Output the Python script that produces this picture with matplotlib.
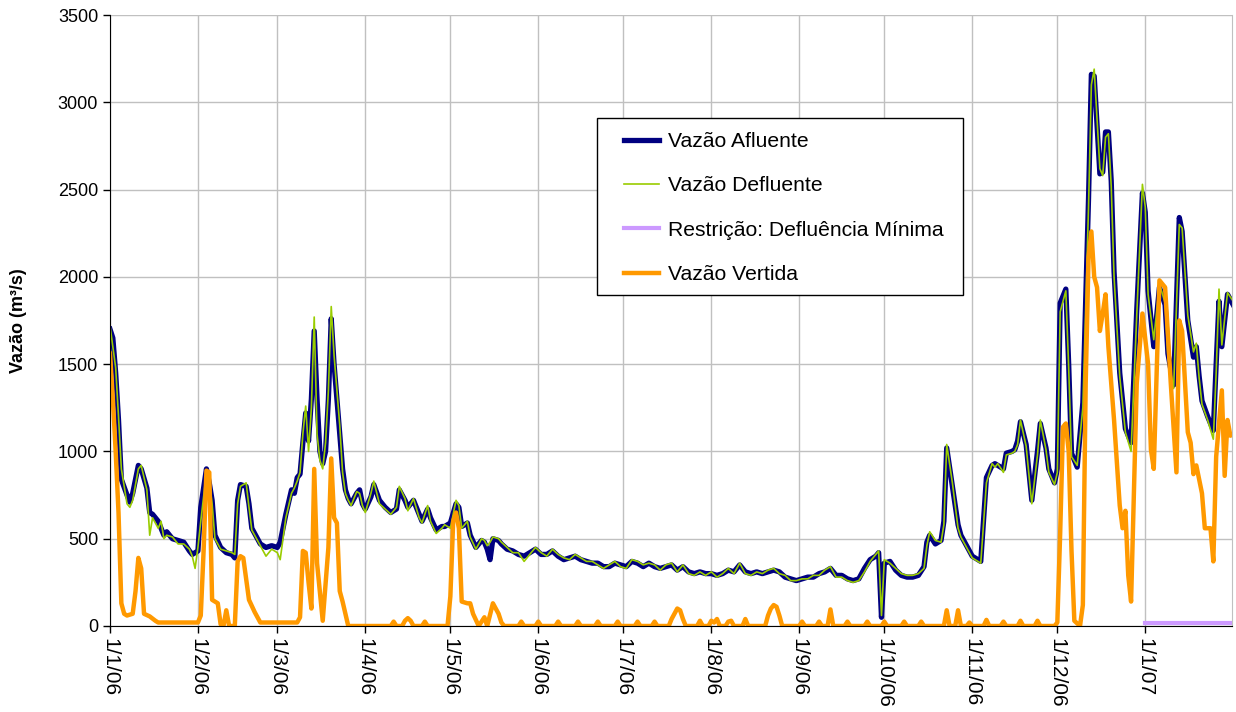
import numpy as np
import matplotlib
matplotlib.use("Agg")
import matplotlib.pyplot as plt
import matplotlib.dates as mdates
from matplotlib.patches import Rectangle
from matplotlib.ticker import FuncFormatter

plt.rcParams['font.family'] = ['Liberation Sans', 'DejaVu Sans']

start = np.datetime64('2006-01-01')

# dias desde 1/1/06
afl_days = [0, 1, 2, 3, 4, 6, 7, 8, 10, 11,
            13, 14, 15, 17, 18, 19, 20, 22, 24, 26,
            28, 29, 30, 31, 32, 34, 35, 36, 37, 39,
            41, 43, 44, 45, 46, 48, 49, 50, 52, 53,
            55, 57, 59, 60, 62, 64, 65, 66, 67, 68,
            69, 70, 71, 72, 73, 74, 75, 76, 77, 78,
            79, 81, 82, 83, 84, 85, 87, 88, 89, 90,
            92, 93, 95, 97, 99, 101, 102, 104, 105, 107,
            109, 110, 112, 113, 115, 117, 118, 120, 122, 123,
            124, 126, 127, 129, 131, 132, 133, 134, 135, 137,
            138, 140, 142, 144, 146, 148, 150, 152, 154, 156,
            158, 160, 162, 164, 166, 168, 170, 172, 174, 176,
            178, 180, 182, 184, 186, 188, 190, 192, 194, 196,
            198, 200, 202, 204, 206, 208, 210, 212, 214, 216,
            218, 220, 222, 224, 226, 228, 230, 232, 234, 236,
            238, 240, 242, 244, 246, 248, 250, 252, 254, 256,
            258, 260, 262, 264, 266, 268, 270, 271, 272, 273,
            275, 277, 279, 281, 283, 285, 287, 288, 289, 291,
            293, 294, 295, 297, 299, 300, 302, 304, 306, 307,
            309, 311, 312, 313, 315, 316, 318, 319, 320, 321,
            323, 325, 327, 328, 330, 331, 333, 334, 335, 337,
            338, 339, 341, 343, 345, 346, 347, 349, 350, 351,
            352, 353, 354, 356, 358, 360, 362, 364, 365, 366,
            368, 370, 372, 373, 375, 377, 378, 380, 382, 383,
            384, 385, 387, 389, 390, 391, 392, 394, 396]

afluente = [1700, 1650, 1450, 1180, 840, 750, 710, 760, 920, 900,
            790, 650, 640, 600, 560, 520, 540, 500, 490, 480,
            430, 410, 420, 430, 680, 900, 820, 720, 520, 450,
            420, 410, 390, 720, 810, 800, 700, 560, 500, 470,
            450, 460, 450, 480, 640, 780, 760, 850, 870, 1050,
            1220, 1060, 1300, 1690, 1300, 1000, 930, 1000, 1300, 1760,
            1500, 1100, 900, 780, 730, 700, 760, 780, 700, 670,
            740, 810, 720, 680, 650, 670, 780, 720, 680, 720,
            640, 600, 670, 620, 550, 570, 570, 590, 700, 680,
            570, 590, 520, 450, 490, 480, 440, 380, 500, 490,
            470, 440, 430, 410, 400, 420, 440, 410, 410, 430,
            400, 380, 390, 400, 380, 370, 360, 360, 340, 340,
            360, 350, 340, 370, 360, 340, 360, 340, 330, 340,
            350, 320, 340, 310, 300, 310, 300, 300, 290, 300,
            320, 310, 350, 310, 300, 310, 300, 310, 320, 310,
            280, 270, 260, 270, 280, 280, 300, 310, 330, 290,
            290, 270, 260, 270, 330, 380, 400, 420, 50, 360,
            370, 320, 290, 280, 280, 290, 340, 480, 520, 470,
            490, 600, 1020, 800, 580, 520, 460, 400, 380, 370,
            850, 920, 930, 920, 900, 990, 1000, 1010, 1060, 1170,
            1040, 720, 1000, 1160, 1020, 900, 820, 900, 1850, 1930,
            1500, 990, 910, 1280, 2450, 3160, 3150, 2590, 2600, 2830,
            2830, 2550, 2030, 1450, 1130, 1050, 1810, 2480, 2370, 1920,
            1600, 1940, 1840, 1560, 1380, 2340, 2260, 1750, 1540, 1600,
            1430, 1290, 1200, 1120, 1500, 1860, 1600, 1900, 1840]

defluente = [1720, 1600, 1480, 1200, 900, 700, 680, 720, 900, 920,
             780, 520, 620, 560, 600, 500, 520, 510, 470, 470,
             440, 400, 330, 450, 600, 880, 840, 700, 500, 440,
             430, 420, 410, 700, 800, 820, 680, 550, 490, 460,
             400, 440, 420, 380, 620, 760, 790, 830, 880, 1100,
             1260, 1000, 1250, 1770, 1100, 950, 900, 1050, 1350, 1830,
             1550, 1150, 880, 760, 720, 690, 770, 760, 690, 650,
             760, 830, 700, 670, 640, 680, 800, 730, 660, 730,
             620, 590, 690, 600, 530, 560, 580, 560, 720, 690,
             560, 600, 510, 440, 500, 490, 460, 480, 510, 500,
             480, 450, 420, 420, 370, 410, 450, 420, 400, 440,
             410, 390, 380, 410, 390, 370, 370, 350, 330, 350,
             370, 340, 330, 380, 370, 350, 360, 350, 320, 350,
             360, 310, 350, 300, 290, 310, 290, 310, 280, 300,
             330, 300, 360, 300, 290, 310, 300, 320, 330, 300,
             290, 260, 260, 270, 270, 290, 290, 320, 340, 280,
             280, 260, 250, 260, 310, 370, 410, 430, 60, 380,
             360, 330, 300, 290, 290, 300, 330, 460, 540, 490,
             480, 580, 1040, 820, 560, 510, 450, 390, 370, 360,
             820, 930, 910, 930, 880, 980, 990, 1000, 1040, 1180,
             1030, 700, 980, 1180, 1010, 880, 810, 880, 1800, 1920,
             1480, 970, 920, 1250, 2400, 3100, 3190, 2620, 2580, 2800,
             2820, 2520, 2000, 1430, 1110, 1000, 1780, 2530, 2400, 1900,
             1640, 1960, 1850, 1540, 1360, 2300, 2280, 1780, 1570, 1620,
             1420, 1270, 1180, 1070, 1450, 1930, 1610, 1910, 1860]

vert_days = [0, 1, 2, 3, 4, 5, 6, 8, 9, 10, 11, 12, 14, 16, 17, 31,
             32, 33, 34, 35, 36, 38, 39, 40, 41, 42, 44, 45, 46, 47, 49, 51, 53,
             66, 67, 68, 69, 70, 71, 72, 73, 75, 77, 78, 79, 80, 81, 82, 84,
             99, 100, 101, 103, 104, 105, 106, 107, 110, 111, 112,
             119, 120, 121, 122, 123, 124, 126, 127, 128, 130, 132, 133, 135, 137, 138, 139,
             144, 145, 146, 150, 151, 152, 157, 158, 159, 164, 165, 166,
             171, 172, 173, 178, 179, 180, 185, 186, 187, 191, 192, 193,
             197, 198, 199, 200, 201, 202, 203,
             207, 208, 209, 211, 212, 213, 214, 215, 217, 218, 219, 220, 223, 224, 225,
             231, 232, 233, 234, 235, 236, 237,
             243, 244, 245, 249, 250, 251, 253, 254, 255, 259, 260, 261,
             266, 267, 268, 272, 273, 274, 279, 280, 281, 285, 286, 287,
             294, 295, 296, 298, 299, 300, 302, 303, 304, 308, 309, 310,
             314, 315, 316, 320, 321, 322, 326, 327, 328, 333, 334,
             335, 336, 337, 338, 339, 340, 342, 343, 344, 345, 346, 347, 348,
             349, 350, 351, 352, 354, 356, 357, 358, 359, 360, 361, 362, 364,
             366, 367, 368, 370, 372, 374, 376, 377, 378, 380, 381, 382, 383,
             385, 386, 388, 389, 390, 392, 393, 394, 395, 396]

vertida = [1560, 1300, 1000, 650, 130, 70, 60, 70, 200, 390, 330, 70, 55, 30, 20, 20,
           60, 430, 890, 880, 150, 130, 10, 0, 90, 0, 0, 370, 400, 390, 150, 80, 20,
           20, 50, 430, 420, 250, 100, 900, 360, 30, 450, 960, 620, 590, 200, 140, 0,
           0, 25, 0, 0, 30, 45, 30, 0, 0, 25, 0,
           0, 170, 600, 650, 560, 140, 130, 130, 70, 0, 50, 0, 130, 70, 20, 0,
           0, 25, 0, 0, 25, 0, 0, 25, 0, 0, 25, 0,
           0, 25, 0, 0, 25, 0, 0, 25, 0, 0, 25, 0,
           0, 40, 70, 100, 90, 40, 0,
           0, 30, 0, 0, 30, 20, 40, 0, 0, 25, 30, 0, 0, 40, 0,
           0, 60, 100, 120, 110, 60, 0,
           0, 25, 0, 0, 25, 0, 0, 95, 0, 0, 25, 0,
           0, 25, 0, 0, 25, 0, 0, 25, 0, 0, 25, 0,
           0, 90, 0, 0, 90, 0, 0, 20, 0, 0, 35, 0,
           0, 25, 0, 0, 30, 0, 0, 30, 0, 0, 20,
           530, 1140, 1160, 1000, 430, 30, 0, 120, 1390, 2110, 2260, 2000, 1940,
           1690, 1790, 1900, 1600, 1180, 690, 560, 660, 290, 140, 760, 1390, 1790,
           1500, 1010, 900, 1980, 1940, 1390, 880, 1750, 1690, 1110, 1050, 870, 920,
           760, 560, 560, 370, 970, 1350, 860, 1180, 1090, 1100]

restr_days = [365, 396]
restricao = [15, 15]


def to_dates(days):
    return start + np.array(days).astype('timedelta64[D]')


W, H = 1236, 712
fig = plt.figure(figsize=(W / 100, H / 100), dpi=100)
ax = fig.add_axes([110 / W, 86 / H, 1122 / W, 611 / H])

ax.plot(to_dates(afl_days), afluente, color='#000080', lw=3.8, label='Vazão Afluente')
ax.plot(to_dates(afl_days), defluente, color='#99cc00', lw=1.2, label='Vazão Defluente')
ax.plot(to_dates(restr_days), restricao, color='#cc99ff', lw=3.0, label='Restrição: Defluência Mínima')
ax.plot(to_dates(vert_days), vertida, color='#ff9900', lw=3.2, label='Vazão Vertida')

ax.set_ylim(0, 3500)
ax.set_yticks(range(0, 3501, 500))
ax.set_xlim(start, start + np.timedelta64(395, 'D') + np.timedelta64(14, 'h'))
ax.xaxis.set_major_locator(mdates.MonthLocator())


def fmt_date(v, pos):
    d = mdates.num2date(v)
    return f"{d.day}/{d.month}/{d:%y}"


ax.xaxis.set_major_formatter(FuncFormatter(fmt_date))
ax.tick_params(axis='both', length=5, width=1, color='black')
ax.tick_params(axis='y', labelsize=13)
ax.tick_params(axis='x', labelsize=15)
plt.setp(ax.get_xticklabels(), rotation=270, ha='center', va='top')

ax.grid(True, color='#c0c0c0', lw=1)
ax.set_axisbelow(True)
ax.spines['top'].set_visible(False)
ax.spines['right'].set_color('#c0c0c0')

ax.set_ylabel('Vazão (m³/s)', fontsize=13, fontweight='bold', labelpad=22)

# legenda sem moldura + retangulo desenhado a parte
fig.add_artist(Rectangle((597 / W, 1 - 295 / H), 366 / W, 177 / H,
                         transform=fig.transFigure, facecolor='white',
                         edgecolor='black', lw=1.0, zorder=4))
handles, labels = ax.get_legend_handles_labels()
leg = fig.legend(handles, labels, loc='upper left', bbox_to_anchor=(624 / W, 1 - 132 / H),
                 bbox_transform=fig.transFigure, fontsize=15.2, frameon=False,
                 handlelength=1.65, labelspacing=1.2, borderaxespad=0, borderpad=0,
                 handletextpad=0.45)
leg.set_zorder(5)

fig.savefig('out.png', dpi=100)
